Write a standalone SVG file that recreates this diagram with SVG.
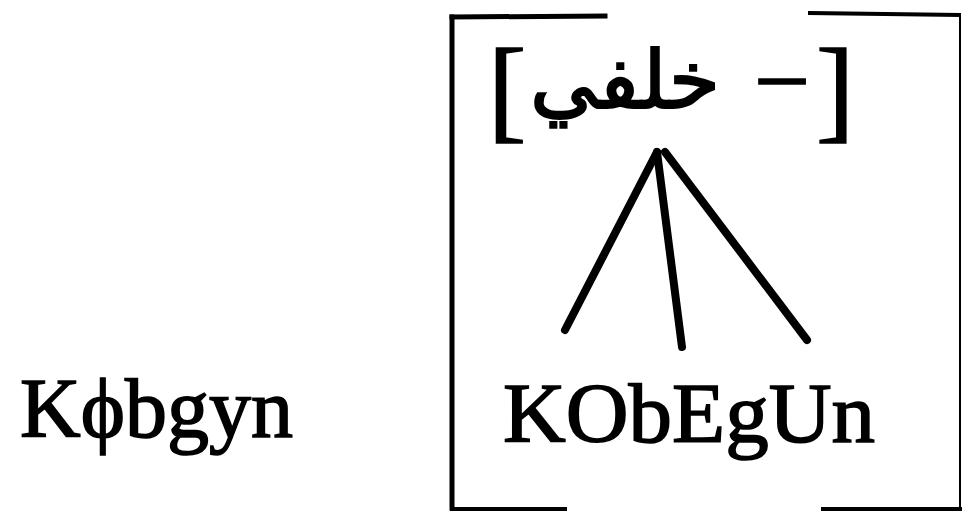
<svg xmlns="http://www.w3.org/2000/svg" width="963" height="513" viewBox="0 0 963 513">
<style>
.serif{font-family:"Liberation Serif","Times New Roman",serif;fill:#000;stroke:#000;stroke-width:1.6}
.ar{font-family:"DejaVu Sans","Noto Sans",sans-serif;fill:#000;stroke:#000;stroke-width:2}
.frame{stroke:#000;fill:none;stroke-linecap:square}
.edge{stroke:#000;stroke-width:8;stroke-linecap:round;fill:none}
</style>
<rect width="963" height="513" fill="#fff"/>
<g id="frame">
<line class="frame" x1="452" y1="17" x2="452" y2="508" stroke-width="5"/>
<line class="frame" x1="452" y1="17" x2="605" y2="16" stroke-width="5"/>
<line class="frame" x1="810" y1="13" x2="959" y2="15" stroke-width="4"/>
<line class="frame" x1="960" y1="15" x2="960" y2="508" stroke-width="2"/>
<line class="frame" x1="452" y1="509" x2="565" y2="509" stroke-width="4"/>
<line class="frame" x1="823" y1="509" x2="960" y2="509" stroke-width="4"/>
</g>
<g id="left-word">
<text class="serif" x="20" y="437" font-size="84" textLength="273" lengthAdjust="spacingAndGlyphs">Kϕbgyn</text>
</g>
<g id="feature">
<text class="serif" x="488" y="128" font-size="115">[</text>
<text class="ar" x="530" y="108" font-size="80" textLength="190" lengthAdjust="spacingAndGlyphs">خلفي</text>
<text class="serif" x="754" y="115" font-size="100" textLength="56" lengthAdjust="spacingAndGlyphs">−</text>
<text class="serif" x="816" y="128" font-size="115">]</text>
</g>
<g id="word">
<text class="serif" x="503" y="442" font-size="84" textLength="372" lengthAdjust="spacingAndGlyphs">KObEgUn</text>
</g>
<g id="connectors">
<line class="edge" x1="657" y1="152" x2="565" y2="330"/>
<line class="edge" x1="657" y1="152" x2="682" y2="347"/>
<line class="edge" x1="665" y1="152" x2="807" y2="340"/>
</g>
</svg>
